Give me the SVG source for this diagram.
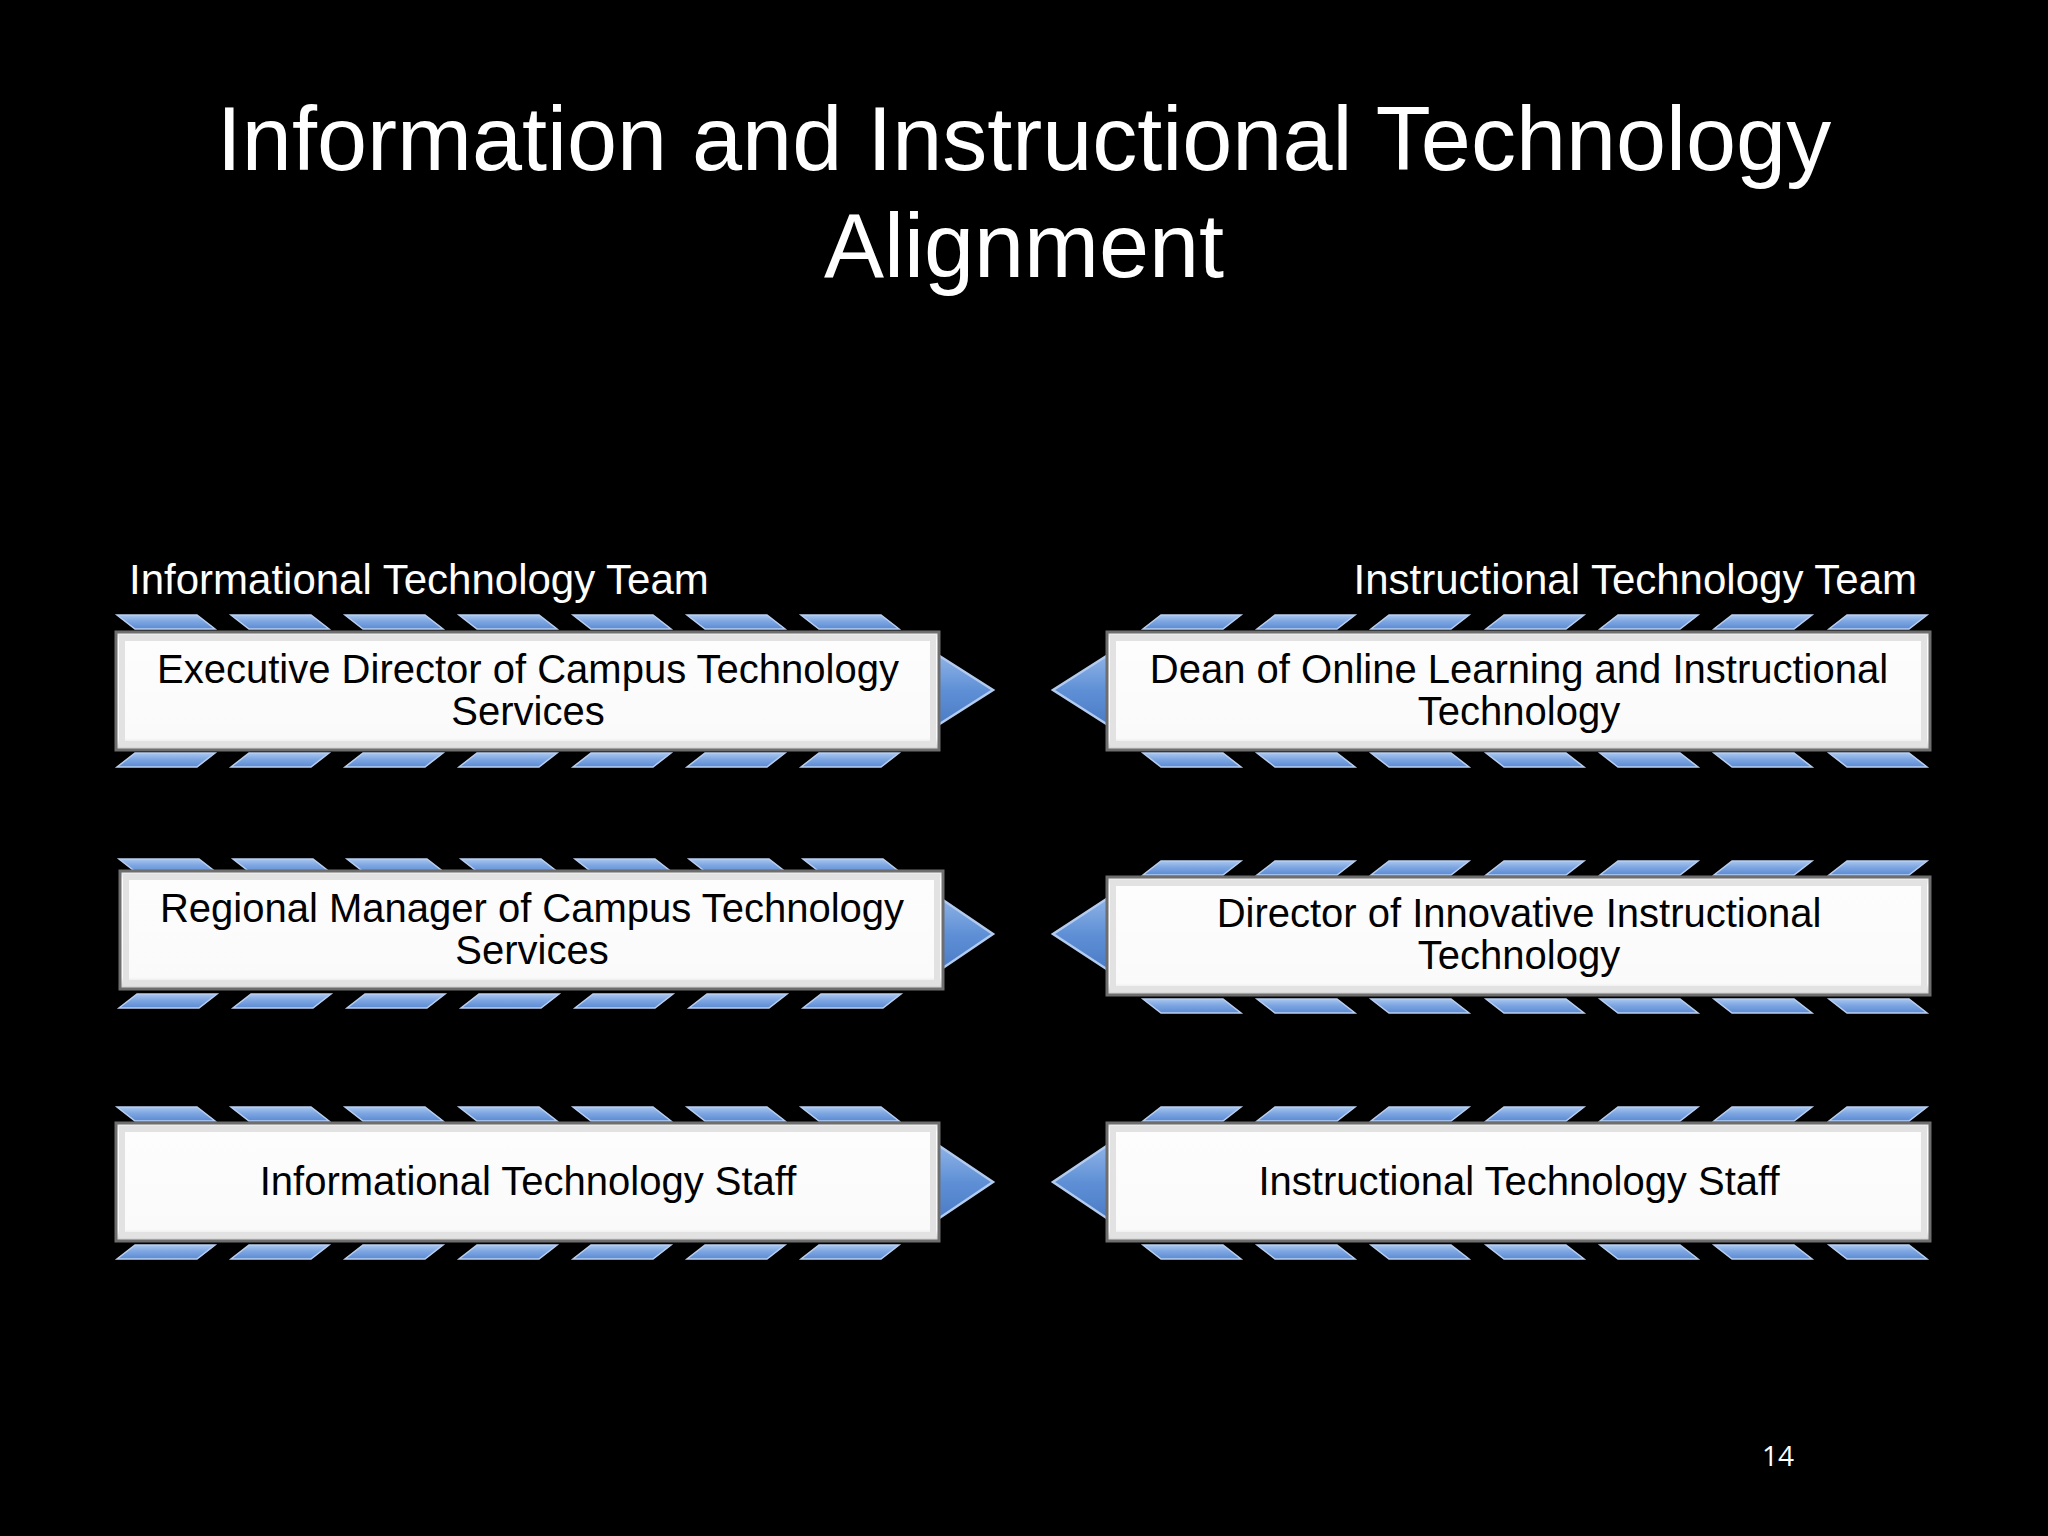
<svg xmlns="http://www.w3.org/2000/svg" xmlns:xlink="http://www.w3.org/1999/xlink" width="2048" height="1536" viewBox="0 0 2048 1536">
<defs>
<style>
.title{font-family:"Liberation Sans",Arial,sans-serif;font-size:90px;fill:#fff;text-anchor:middle}
.head{font-family:"Liberation Sans",Arial,sans-serif;font-size:42px;fill:#fff}
.lbl{font-family:"Liberation Sans",Arial,sans-serif;font-size:40px;fill:#000;text-anchor:middle}
.pg{font-family:"Open Sans","Liberation Sans",sans-serif;font-size:28px;fill:#fff;text-anchor:middle}
.box{fill:url(#boxg);stroke:#6e6e6e;stroke-width:3}
.inner{fill:none;stroke:#e2e2e2;stroke-width:6}
.para{fill:url(#parag);stroke:#b9cff0;stroke-width:1.5}
.arr{fill:url(#arrg);stroke:#b3cbee;stroke-width:2.5}
</style>
<linearGradient id="parag" x1="0" y1="0" x2="0" y2="1">
<stop offset="0" stop-color="#a9c6ef"/>
<stop offset="0.45" stop-color="#7ea6e2"/>
<stop offset="1" stop-color="#5b8bd3"/>
</linearGradient>
<linearGradient id="arrg" x1="0" y1="0" x2="0" y2="1">
<stop offset="0" stop-color="#8fb3e6"/>
<stop offset="0.5" stop-color="#5f90d6"/>
<stop offset="1" stop-color="#4a7cc6"/>
</linearGradient>
<linearGradient id="boxg" x1="0" y1="0" x2="0" y2="1">
<stop offset="0" stop-color="#e6e6e6"/>
<stop offset="0.08" stop-color="#fdfdfd"/>
<stop offset="0.9" stop-color="#fafafa"/>
<stop offset="1" stop-color="#cfcfcf"/>
</linearGradient>
<path id="pb" d="M0,0 H80 L98,14 H18 Z"/>
<path id="pf" d="M18,0 H98 L80,14 H0 Z"/>
</defs>
<rect width="2048" height="1536" fill="#000"/>
<text class="title" x="1024" y="170">Information and Instructional Technology</text>
<text class="title" x="1024" y="277">Alignment</text>
<text class="head" x="129" y="594">Informational Technology Team</text>
<text class="head" x="1917" y="594" text-anchor="end">Instructional Technology Team</text>

<g id="connectors">
<polygon class="arr" points="938,655 993,690 938,725"/>
<polygon class="arr" points="1108,655 1053,690 1108,725"/>
<polygon class="arr" points="940,898 993,934 940,970"/>
<polygon class="arr" points="1108,898 1053,934 1108,970"/>
<polygon class="arr" points="938,1145 993,1182 938,1219"/>
<polygon class="arr" points="1108,1145 1053,1182 1108,1219"/>
</g>

<g id="node-exec-director">
<g class="para">
<use href="#pb" x="117" y="615"/><use href="#pb" x="231" y="615"/><use href="#pb" x="345" y="615"/><use href="#pb" x="459" y="615"/><use href="#pb" x="573" y="615"/><use href="#pb" x="687" y="615"/><use href="#pb" x="801" y="615"/>
<use href="#pf" x="117" y="753"/><use href="#pf" x="231" y="753"/><use href="#pf" x="345" y="753"/><use href="#pf" x="459" y="753"/><use href="#pf" x="573" y="753"/><use href="#pf" x="687" y="753"/><use href="#pf" x="801" y="753"/>
</g>
<rect class="box" x="116" y="632" width="823" height="118"/>
<rect class="inner" x="122" y="638" width="811" height="106"/>
<text class="lbl" x="528" y="683">Executive Director of Campus Technology</text>
<text class="lbl" x="528" y="725">Services</text>
</g>

<g id="node-dean">
<g class="para">
<use href="#pf" x="1143" y="615"/><use href="#pf" x="1257" y="615"/><use href="#pf" x="1371" y="615"/><use href="#pf" x="1486" y="615"/><use href="#pf" x="1600" y="615"/><use href="#pf" x="1714" y="615"/><use href="#pf" x="1829" y="615"/>
<use href="#pb" x="1143" y="753"/><use href="#pb" x="1257" y="753"/><use href="#pb" x="1371" y="753"/><use href="#pb" x="1486" y="753"/><use href="#pb" x="1600" y="753"/><use href="#pb" x="1714" y="753"/><use href="#pb" x="1829" y="753"/>
</g>
<rect class="box" x="1107" y="632" width="823" height="118"/>
<rect class="inner" x="1113" y="638" width="811" height="106"/>
<text class="lbl" x="1519" y="683">Dean of Online Learning and Instructional</text>
<text class="lbl" x="1519" y="725">Technology</text>
</g>

<g id="node-regional-manager">
<g class="para">
<use href="#pb" x="119" y="859"/><use href="#pb" x="233" y="859"/><use href="#pb" x="347" y="859"/><use href="#pb" x="461" y="859"/><use href="#pb" x="575" y="859"/><use href="#pb" x="689" y="859"/><use href="#pb" x="803" y="859"/>
<use href="#pf" x="119" y="994"/><use href="#pf" x="233" y="994"/><use href="#pf" x="347" y="994"/><use href="#pf" x="461" y="994"/><use href="#pf" x="575" y="994"/><use href="#pf" x="689" y="994"/><use href="#pf" x="803" y="994"/>
</g>
<rect class="box" x="120" y="871" width="823" height="118"/>
<rect class="inner" x="126" y="877" width="811" height="106"/>
<text class="lbl" x="532" y="922">Regional Manager of Campus Technology</text>
<text class="lbl" x="532" y="964">Services</text>
</g>

<g id="node-director-innovative">
<g class="para">
<use href="#pf" x="1143" y="861"/><use href="#pf" x="1257" y="861"/><use href="#pf" x="1371" y="861"/><use href="#pf" x="1486" y="861"/><use href="#pf" x="1600" y="861"/><use href="#pf" x="1714" y="861"/><use href="#pf" x="1829" y="861"/>
<use href="#pb" x="1143" y="999"/><use href="#pb" x="1257" y="999"/><use href="#pb" x="1371" y="999"/><use href="#pb" x="1486" y="999"/><use href="#pb" x="1600" y="999"/><use href="#pb" x="1714" y="999"/><use href="#pb" x="1829" y="999"/>
</g>
<rect class="box" x="1107" y="877" width="823" height="118"/>
<rect class="inner" x="1113" y="883" width="811" height="106"/>
<text class="lbl" x="1519" y="927">Director of Innovative Instructional</text>
<text class="lbl" x="1519" y="969">Technology</text>
</g>

<g id="node-it-staff">
<g class="para">
<use href="#pb" x="117" y="1107"/><use href="#pb" x="231" y="1107"/><use href="#pb" x="345" y="1107"/><use href="#pb" x="459" y="1107"/><use href="#pb" x="573" y="1107"/><use href="#pb" x="687" y="1107"/><use href="#pb" x="801" y="1107"/>
<use href="#pf" x="117" y="1245"/><use href="#pf" x="231" y="1245"/><use href="#pf" x="345" y="1245"/><use href="#pf" x="459" y="1245"/><use href="#pf" x="573" y="1245"/><use href="#pf" x="687" y="1245"/><use href="#pf" x="801" y="1245"/>
</g>
<rect class="box" x="116" y="1123" width="823" height="118"/>
<rect class="inner" x="122" y="1129" width="811" height="106"/>
<text class="lbl" x="528" y="1195">Informational Technology Staff</text>
</g>

<g id="node-instr-staff">
<g class="para">
<use href="#pf" x="1143" y="1107"/><use href="#pf" x="1257" y="1107"/><use href="#pf" x="1371" y="1107"/><use href="#pf" x="1486" y="1107"/><use href="#pf" x="1600" y="1107"/><use href="#pf" x="1714" y="1107"/><use href="#pf" x="1829" y="1107"/>
<use href="#pb" x="1143" y="1245"/><use href="#pb" x="1257" y="1245"/><use href="#pb" x="1371" y="1245"/><use href="#pb" x="1486" y="1245"/><use href="#pb" x="1600" y="1245"/><use href="#pb" x="1714" y="1245"/><use href="#pb" x="1829" y="1245"/>
</g>
<rect class="box" x="1107" y="1123" width="823" height="118"/>
<rect class="inner" x="1113" y="1129" width="811" height="106"/>
<text class="lbl" x="1519" y="1195">Instructional Technology Staff</text>
</g>

<text class="pg" x="1778" y="1466">14</text>
</svg>
